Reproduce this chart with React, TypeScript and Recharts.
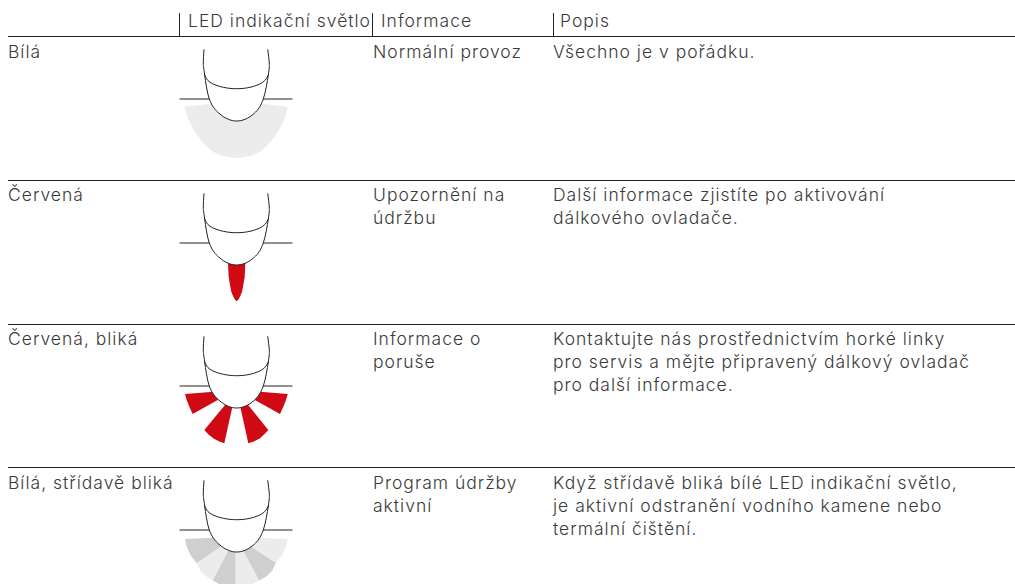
import React from 'react';
import { ScatterChart, Scatter, XAxis, YAxis } from 'recharts';

type P = { x: number; y: number };
type L = P & { text: string };

const WIDTH = 1015;
const HEIGHT = 584;
const INK = '#222222';
const TEXT_COLOR = '#3a3a3a';
const RED = '#cf0a12';
const LIGHT = '#ececec';
const DARK = '#cfcfcf';

const headers: L[] = [
  { x: 188, y: 27, text: 'LED indikační světlo' },
  { x: 381, y: 27, text: 'Informace' },
  { x: 560, y: 27, text: 'Popis' },
];
const colorLabels: L[] = [
  { x: 8, y: 58, text: 'Bílá' },
  { x: 8, y: 201, text: 'Červená' },
  { x: 8, y: 345, text: 'Červená, bliká' },
  { x: 8, y: 489, text: 'Bílá, střídavě bliká' },
];
const infoLabels: L[] = [
  { x: 373, y: 58, text: 'Normální provoz' },
  { x: 373, y: 201, text: 'Upozornění na' },
  { x: 373, y: 224, text: 'údržbu' },
  { x: 373, y: 345, text: 'Informace o' },
  { x: 373, y: 368, text: 'poruše' },
  { x: 373, y: 489, text: 'Program údržby' },
  { x: 373, y: 512, text: 'aktivní' },
];
const descLabels: L[] = [
  { x: 553, y: 58, text: 'Všechno je v pořádku.' },
  { x: 553, y: 201, text: 'Další informace zjistíte po aktivování' },
  { x: 553, y: 224, text: 'dálkového ovladače.' },
  { x: 553, y: 345, text: 'Kontaktujte nás prostřednictvím horké linky' },
  { x: 553, y: 368, text: 'pro servis a mějte připravený dálkový ovladač' },
  { x: 553, y: 391, text: 'pro další informace.' },
  { x: 553, y: 489, text: 'Když střídavě bliká bílé LED indikační světlo,' },
  { x: 553, y: 512, text: 'je aktivní odstranění vodního kamene nebo' },
  { x: 553, y: 535, text: 'termální čištění.' },
];

const ruleRows = [36.5, 180.5, 324.5, 467.5];
const headerTicks = [179.5, 372.5, 553.5];

const rowOffsets = [0, 144, 287, 431];

const bulbOutline: P[] = [
  { x: 204, y: 49.3 }, { x: 203.3, y: 63 }, { x: 204.7, y: 75 }, { x: 209.3, y: 99 },
  { x: 219, y: 113.3 }, { x: 228.3, y: 119.3 }, { x: 236.7, y: 121 }, { x: 245, y: 119.3 },
  { x: 254.3, y: 113.3 }, { x: 263.3, y: 99 }, { x: 268.3, y: 75 }, { x: 269.3, y: 63 }, { x: 267.7, y: 49.3 },
];
const bulbArc: P[] = [
  { x: 204.7, y: 75 }, { x: 210, y: 82.3 }, { x: 223.3, y: 87.3 }, { x: 236.7, y: 88.7 },
  { x: 250, y: 87.3 }, { x: 262.7, y: 82.3 }, { x: 268.3, y: 75 },
];
const baseLeft: P[] = [{ x: 179.5, y: 99 }, { x: 225, y: 99 }];
const baseRight: P[] = [{ x: 250, y: 99 }, { x: 292.5, y: 99 }];

const whiteGlow: P[] = [
  { x: 185, y: 106.7 }, { x: 185.7, y: 110.7 }, { x: 187.3, y: 116.7 }, { x: 190.7, y: 124 },
  { x: 195, y: 131.7 }, { x: 200.7, y: 140 }, { x: 206.7, y: 146.7 }, { x: 213.3, y: 152 },
  { x: 220, y: 155.3 }, { x: 228.3, y: 157.3 }, { x: 236.3, y: 158 }, { x: 244.3, y: 157.3 },
  { x: 252.7, y: 155.3 }, { x: 259.3, y: 152 }, { x: 266, y: 146.7 }, { x: 272, y: 140 },
  { x: 277.7, y: 131.7 }, { x: 282, y: 124 }, { x: 285.3, y: 116.7 }, { x: 287, y: 110.7 },
  { x: 287.7, y: 106.7 }, { x: 263.3, y: 104 }, { x: 210, y: 104 },
];
const redDrop: P[] = [
  { x: 228, y: 258 }, { x: 228, y: 263.3 }, { x: 228.3, y: 270 }, { x: 228.7, y: 276.7 }, { x: 230, y: 285 },
  { x: 231.3, y: 291.7 }, { x: 233, y: 296 }, { x: 234.7, y: 299.3 }, { x: 236.7, y: 301.3 }, { x: 238.7, y: 299.3 },
  { x: 240.3, y: 296 }, { x: 242, y: 291.7 }, { x: 243.3, y: 285 }, { x: 244.7, y: 276.7 }, { x: 245, y: 270 },
  { x: 245.3, y: 263.3 }, { x: 245.3, y: 258 },
];
const redRays: P[][] = [
  [{ x: 185, y: 394 }, { x: 226.7, y: 390.7 }, { x: 226.7, y: 395 }, { x: 192.7, y: 414 }, { x: 189.3, y: 406.7 }, { x: 186.7, y: 400 }],
  [{ x: 233.3, y: 395 }, { x: 235, y: 395 }, { x: 224.3, y: 443.3 }, { x: 218.7, y: 441.3 }, { x: 213.3, y: 438.3 }, { x: 208.3, y: 434.3 }, { x: 204.3, y: 430 }],
  [{ x: 237.7, y: 395 }, { x: 240, y: 395 }, { x: 268.3, y: 430 }, { x: 264.3, y: 434.3 }, { x: 260, y: 438.3 }, { x: 254.3, y: 441.3 }, { x: 248.3, y: 443.3 }],
  [{ x: 287.7, y: 394 }, { x: 246, y: 390.7 }, { x: 246, y: 395 }, { x: 280, y: 414 }, { x: 283.3, y: 406.7 }, { x: 286, y: 400 }],
];
const greyRays: { fill: string; pts: P[] }[] = [
  { fill: DARK, pts: [{ x: 185, y: 539 }, { x: 235.7, y: 536.7 }, { x: 196.7, y: 563.3 }, { x: 190.7, y: 555.5 }, { x: 187.3, y: 548 }, { x: 185.7, y: 543 }] },
  { fill: LIGHT, pts: [{ x: 235.7, y: 536.7 }, { x: 196.7, y: 563.3 }, { x: 200.7, y: 571 }, { x: 206.7, y: 576.7 }, { x: 212.7, y: 580.5 }] },
  { fill: DARK, pts: [{ x: 235.7, y: 536.7 }, { x: 212.7, y: 580.5 }, { x: 219, y: 584 }, { x: 235.7, y: 584 }] },
  { fill: LIGHT, pts: [{ x: 235.7, y: 536.7 }, { x: 235.7, y: 584 }, { x: 253, y: 584 }, { x: 259.3, y: 580.5 }] },
  { fill: DARK, pts: [{ x: 235.7, y: 536.7 }, { x: 259.3, y: 580.5 }, { x: 266, y: 576.7 }, { x: 272, y: 571 }, { x: 276, y: 562.7 }] },
  { fill: LIGHT, pts: [{ x: 235.7, y: 536.7 }, { x: 276, y: 562.7 }, { x: 282, y: 555.5 }, { x: 285.3, y: 548 }, { x: 287, y: 543 }, { x: 287.7, y: 539 }] },
];

const shift = (pts: P[], dy: number): P[] => pts.map((p) => ({ x: p.x, y: p.y + dy }));

const noDot = () => <g />;

const textShape = (size: number, spacing: number) => (props: any) => (
  <text
    x={props.cx}
    y={props.cy}
    fontFamily="Inter, sans-serif"
    fontWeight={300}
    fontSize={size}
    letterSpacing={spacing}
    fill={TEXT_COLOR}
  >
    {props.payload.text}
  </text>
);

const fillSeries = (key: string, pts: P[], fill: string, curve: any = 'linear') => (
  <Scatter
    key={key}
    data={pts}
    isAnimationActive={false}
    shape={noDot}
    line={{ fill, stroke: 'none' } as any}
    lineJointType={curve}
  />
);
const strokeSeries = (key: string, pts: P[], curve: any = 'natural') => (
  <Scatter
    key={key}
    data={pts}
    isAnimationActive={false}
    shape={noDot}
    line={{ stroke: INK, strokeWidth: 1, fill: 'none' } as any}
    lineJointType={curve}
  />
);

export default function App() {
  const allLabels = [...headers, ...colorLabels, ...infoLabels, ...descLabels];
  return (
    <div style={{ position: 'absolute', left: 0, top: 0, width: WIDTH, height: HEIGHT }}>
      <ScatterChart width={WIDTH} height={HEIGHT} margin={{ top: 0, right: 0, bottom: 0, left: 0 }}>
        <XAxis type="number" dataKey="x" domain={[0, WIDTH]} hide />
        <YAxis type="number" dataKey="y" domain={[0, HEIGHT]} reversed hide />

        {ruleRows.map((y, i) => strokeSeries(`rule${i}`, [{ x: 8, y }, { x: WIDTH, y }], 'linear'))}
        {headerTicks.map((x, i) => strokeSeries(`tick${i}`, [{ x, y: 13 }, { x, y: 36.5 }], 'linear'))}

        {fillSeries('glow', whiteGlow, LIGHT)}
        {fillSeries('drop', redDrop, RED)}
        {redRays.map((r, i) => fillSeries(`ray${i}`, r, RED))}
        {greyRays.map((r, i) => fillSeries(`grey${i}`, r.pts, r.fill))}

        {rowOffsets.map((dy, i) => strokeSeries(`baseL${i}`, shift(baseLeft, dy), 'linear'))}
        {rowOffsets.map((dy, i) => strokeSeries(`baseR${i}`, shift(baseRight, dy), 'linear'))}
        {rowOffsets.map((dy, i) => fillSeries(`bulb${i}`, shift(bulbOutline, dy), '#ffffff', 'natural'))}
        {rowOffsets.map((dy, i) => strokeSeries(`outline${i}`, shift(bulbOutline, dy)))}
        {rowOffsets.map((dy, i) => strokeSeries(`arc${i}`, shift(bulbArc, dy)))}

        <Scatter data={allLabels} isAnimationActive={false} shape={textShape(17.5, 1)} />
      </ScatterChart>
    </div>
  );
}
